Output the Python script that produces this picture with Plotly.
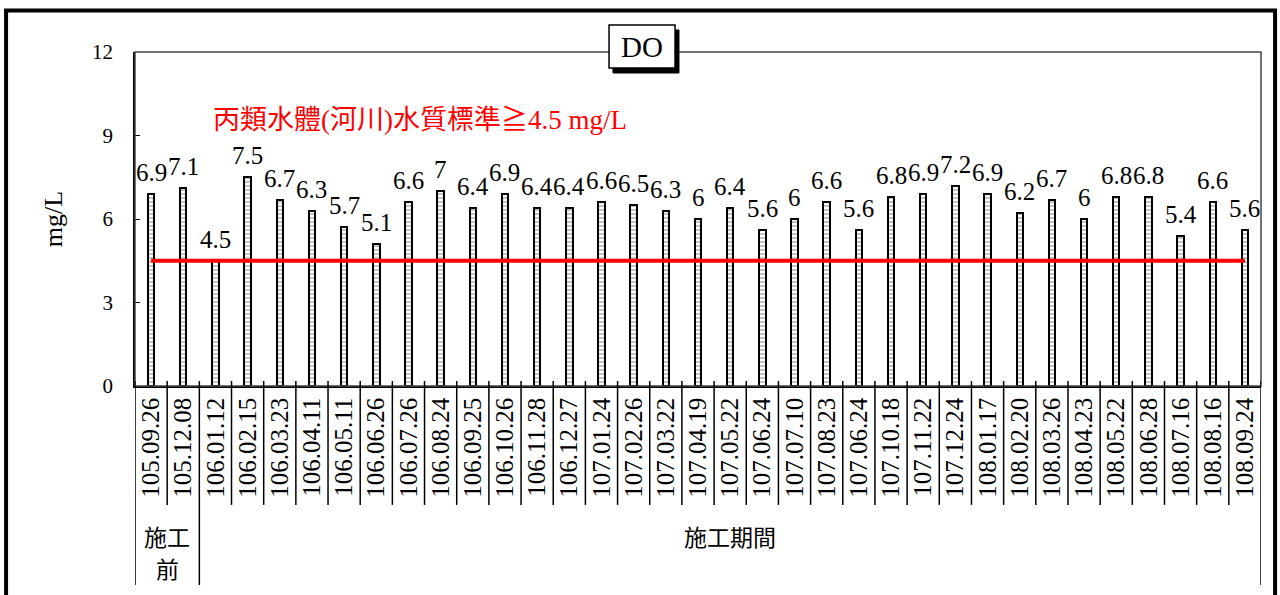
import plotly.graph_objects as go

dates = ["105.09.26", "105.12.08", "106.01.12", "106.02.15", "106.03.23", "106.04.11",
         "106.05.11", "106.06.26", "106.07.26", "106.08.24", "106.09.25", "106.10.26",
         "106.11.28", "106.12.27", "107.01.24", "107.02.26", "107.03.22", "107.04.19",
         "107.05.22", "107.06.24", "107.07.10", "107.08.23", "107.06.24", "107.10.18",
         "107.11.22", "107.12.24", "108.01.17", "108.02.20", "108.03.26", "108.04.23",
         "108.05.22", "108.06.28", "108.07.16", "108.08.16", "108.09.24"]
do_values = [6.9, 7.1, 4.5, 7.5, 6.7, 6.3, 5.7, 5.1, 6.6, 7, 6.4, 6.9, 6.4, 6.4, 6.6,
             6.5, 6.3, 6, 6.4, 5.6, 6, 6.6, 5.6, 6.8, 6.9, 7.2, 6.9, 6.2, 6.7, 6, 6.8,
             6.8, 5.4, 6.6, 5.6]
standard = 4.5
standard_text = "丙類水體(河川)水質標準≧4.5 mg/L"
groups = ["施工<br>前", "施工期間"]
group_sizes = [2, 33]
title = "DO"
y_title = "mg/L"

SERIF = "'Liberation Serif', 'Times New Roman', 'Noto Sans CJK TC', serif"
CJK = "'Noto Sans CJK TC', 'Liberation Serif', serif"

xs = list(range(len(dates)))
n = len(dates)

fig = go.Figure()
fig.add_trace(go.Bar(
    x=xs, y=do_values, width=0.2,
    marker=dict(color="white", line=dict(color="black", width=2),
                pattern=dict(shape="-", size=4, fgcolor="#888", bgcolor="white", solidity=0.5)),
    hoverinfo="skip", showlegend=False,
))
fig.add_trace(go.Scatter(
    x=[xs[0], xs[-1]], y=[standard, standard], mode="lines",
    line=dict(color="#ff0000", width=4), hoverinfo="skip", showlegend=False,
))

# value labels above bars
for x, v in zip(xs, do_values):
    fig.add_annotation(x=x, y=v, text=f"{v:g}", showarrow=False, yanchor="bottom",
                       xanchor="center", yshift=6,
                       font=dict(family=SERIF, size=25, color="black"))

fig.add_annotation(xref="paper", yref="paper", x=0.253, y=0.796, text=standard_text,
                   showarrow=False, xanchor="center", yanchor="middle",
                   font=dict(family=SERIF, size=27, color="#ff0000"))

shapes = []
# outer frame
shapes.append(dict(type="rect", xref="paper", yref="paper", x0=-0.1145, x1=1.0125,
                   y0=-0.75, y1=1.124, line=dict(color="black", width=4)))
# plot box
shapes.append(dict(type="rect", xref="paper", yref="paper", x0=0, x1=1, y0=0, y1=1,
                   line=dict(color="#444", width=1.5)))
# table dividers under axis (with a small tick above the axis)
row1 = -0.356
row2 = -0.596
bounds = [0]
for s in group_sizes:
    bounds.append(bounds[-1] + s)
for i in range(n + 1):
    y_end = row2 if i in bounds else row1
    shapes.append(dict(type="line", xref="x", yref="paper", x0=i - 0.5, x1=i - 0.5,
                       y0=0.015, y1=y_end, line=dict(color="black", width=1.5)))
for g, a, b in zip(groups, bounds[:-1], bounds[1:]):
    for k, part in enumerate(g.split("<br>")):
        fig.add_annotation(xref="x", yref="paper", x=(a + b - 1) / 2, y=-0.392, text=part,
                           showarrow=False, xanchor="center", yanchor="top", yshift=-32 * k,
                           font=dict(family=CJK, size=23, color="black"))
# title box with shadow
shapes.append(dict(type="rect", xref="paper", yref="paper", x0=0.4245, x1=0.4831,
                   y0=0.9371, y1=1.0659, fillcolor="black", line=dict(color="black", width=1)))
shapes.append(dict(type="rect", xref="paper", yref="paper", x0=0.421, x1=0.4796,
                   y0=0.952, y1=1.0808, fillcolor="white", line=dict(color="black", width=1.5)))
fig.add_annotation(xref="paper", yref="paper", x=0.4503, y=1.0164, text=title,
                   showarrow=False, xanchor="center", yanchor="middle",
                   font=dict(family=SERIF, size=29, color="black"))

fig.update_layout(
    width=1280, height=595,
    margin=dict(l=135, r=19, t=52, b=209),
    plot_bgcolor="white", paper_bgcolor="white",
    shapes=shapes, bargap=0,
    font=dict(family=SERIF, color="black"),
)
fig.update_xaxes(
    range=[-0.5, n - 0.5], tickmode="array", tickvals=xs, ticktext=dates,
    tickangle=-90, tickfont=dict(family=SERIF, size=25, color="black"),
    showline=True, linecolor="black", linewidth=1.5, showgrid=False, ticks="",
    zeroline=False,
)
fig.update_yaxes(
    range=[0, 12], dtick=3, ticks="inside", ticklen=5, tickcolor="black",
    showline=True, linecolor="black", linewidth=1.5, showgrid=False, zeroline=False,
    tickfont=dict(family=SERIF, size=21, color="black"), ticklabelstandoff=16,
    title=dict(text=y_title, font=dict(family=SERIF, size=26, color="black"), standoff=22),
)

fig.write_html("out.html", config={"displayModeBar": False},
               post_script="document.body.style.margin='0';")
